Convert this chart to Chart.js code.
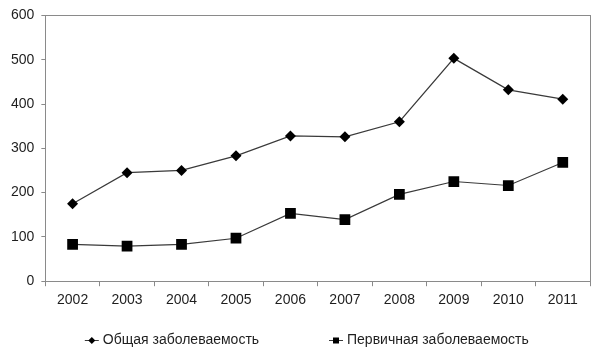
<!DOCTYPE html>
<html>
<head>
<meta charset="utf-8">
<script src="https://cdn.jsdelivr.net/npm/chart.js@4/dist/chart.umd.min.js"></script>
<style>
  html, body { margin: 0; padding: 0; background: #fff; }
  #wrap { width: 600px; height: 351px; }
</style>
</head>
<body>
<div id="wrap"><canvas id="chart" width="600" height="351"></canvas></div>
<script>
// ===== Data =====
const years = ['2002', '2003', '2004', '2005', '2006', '2007', '2008', '2009', '2010', '2011'];
const totalRate = [175, 245, 250, 283, 328, 326, 360, 503, 432, 411];
const primaryRate = [83, 79, 83, 97, 153, 139, 196, 225, 216, 268];
const yTicks = [0, 100, 200, 300, 400, 500, 600];

const LINE = '#3a3a3a';
const AXIS = '#8a8a8a';
const TEXT = '#1e1e1e';
const FONT = 'Liberation Sans, Arial, sans-serif';

// small legend glyph: short line with the series marker
function drawGlyph(g, kind, cx, cy) {
    g.save();
    g.fillStyle = LINE;
    g.fillRect(cx - 7, cy, 14, 1);
    g.fillStyle = '#000';
    if (kind === 'diamond') {
        g.beginPath(); g.moveTo(cx, cy - 3); g.lineTo(cx + 3.5, cy + 0.5); g.lineTo(cx, cy + 4); g.lineTo(cx - 3.5, cy + 0.5); g.closePath(); g.fill();
    } else {
        g.fillRect(cx - 3, cy - 2.5, 6, 6);
    }
    g.restore();
}

// plot frame (top/right) and bottom legend
const decorPlugin = {
    id: 'decor',
    afterDraw(chart) {
        const { ctx, chartArea, width, height } = chart;
        const l = Math.round(chartArea.left), t = Math.round(chartArea.top);
        const r = Math.round(chartArea.right), b = Math.round(chartArea.bottom);
        ctx.save();
        ctx.fillStyle = AXIS;
        ctx.fillRect(l, t, r - l + 1, 1);
        ctx.fillRect(r, t, 1, b - t);

        const y = height - 11;
        const starts = [width * 0.153, width * 0.56];
        ctx.font = '14px ' + FONT;
        ctx.textBaseline = 'middle';
        ctx.textAlign = 'left';
        chart.data.datasets.forEach((ds, i) => {
            drawGlyph(ctx, ds.legendGlyph, starts[i], y);
            ctx.fillStyle = TEXT;
            ctx.fillText(ds.label, starts[i] + 11, y);
        });
        ctx.restore();
    }
};

new Chart(document.getElementById('chart').getContext('2d'), {
    type: 'line',
    data: {
        labels: years,
        datasets: [
            {
                label: 'Общая заболеваемость',
                data: totalRate,
                borderColor: LINE,
                borderWidth: 1.2,
                pointStyle: 'rectRot',
                pointRadius: 5.5,
                pointBackgroundColor: '#000',
                pointBorderColor: '#000',
                pointBorderWidth: 0,
                tension: 0,
                fill: false,
                legendGlyph: 'diamond'
            },
            {
                label: 'Первичная заболеваемость',
                data: primaryRate,
                borderColor: LINE,
                borderWidth: 1.2,
                pointStyle: 'rect',
                pointRadius: 7.6,
                pointBackgroundColor: '#000',
                pointBorderColor: '#000',
                pointBorderWidth: 0,
                tension: 0,
                fill: false,
                legendGlyph: 'square'
            }
        ]
    },
    options: {
        responsive: false,
        animation: false,
        layout: { padding: { top: 6, right: 10, left: 4, bottom: 36 } },
        plugins: {
            tooltip: { enabled: false },
            legend: { display: false }
        },
        scales: {
            x: {
                offset: true,
                grid: {
                    offset: true,
                    drawOnChartArea: false,
                    drawTicks: true,
                    tickLength: 5,
                    color: AXIS
                },
                border: { display: true, color: AXIS, width: 1 },
                ticks: {
                    color: TEXT,
                    padding: 6,
                    maxRotation: 0,
                    font: { family: FONT, size: 14 }
                }
            },
            y: {
                min: 0,
                max: 600,
                afterBuildTicks: axis => { axis.ticks = yTicks.map(v => ({ value: v })); },
                grid: {
                    drawOnChartArea: false,
                    drawTicks: true,
                    tickLength: 4,
                    color: AXIS
                },
                border: { display: true, color: AXIS, width: 1 },
                ticks: {
                    color: TEXT,
                    padding: 7,
                    font: { family: FONT, size: 14 }
                }
            }
        }
    },
    plugins: [decorPlugin]
});
</script>
</body>
</html>
